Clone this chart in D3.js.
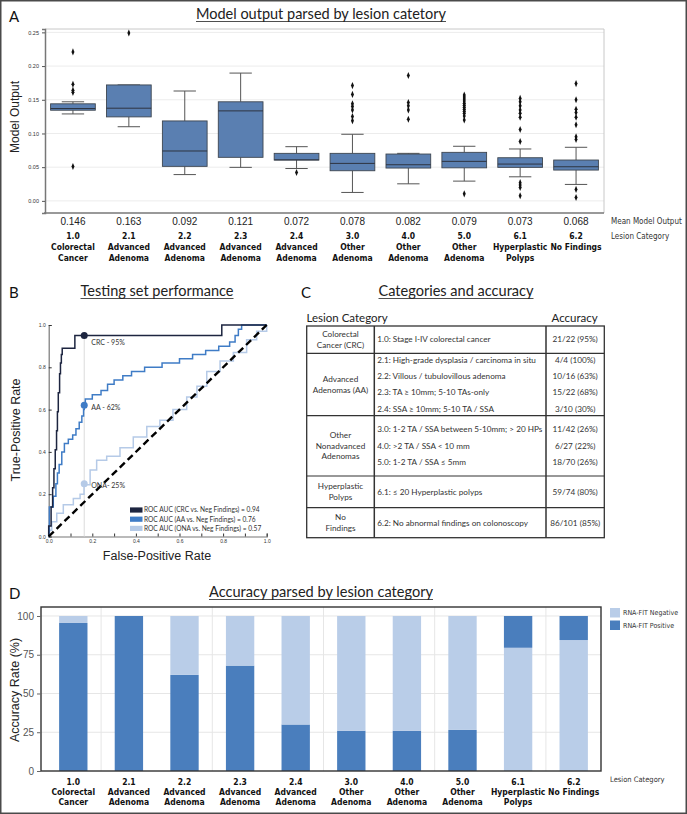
<!DOCTYPE html>
<html><head><meta charset="utf-8">
<script src="https://cdn.jsdelivr.net/npm/d3@7"></script>
<style>
body{margin:0;background:#fff;}
svg text{font-family:"Liberation Sans",Arial,sans-serif;}
.cond{font-family:"Liberation Sans Narrow","DejaVu Sans Condensed","Roboto Condensed",sans-serif;font-stretch:condensed;}
.my{font-family:Lato,"Noto Sans",sans-serif;}
</style></head><body>
<svg id="fig" width="687" height="814"></svg>
<script>
// ---------------- DATA ----------------
const lesionCodes = ["1.0","2.1","2.2","2.3","2.4","3.0","4.0","5.0","6.1","6.2"];
const lesionNames = [["Colorectal","Cancer"],["Advanced","Adenoma"],["Advanced","Adenoma"],["Advanced","Adenoma"],["Advanced","Adenoma"],["Other","Adenoma"],["Other","Adenoma"],["Other","Adenoma"],["Hyperplastic","Polyps"],["No Findings"]];
const meanOutput = [0.146,0.163,0.092,0.121,0.072,0.078,0.082,0.079,0.073,0.068];
const boxQ1      = [0.1345,0.1246,0.0512,0.0646,0.0606,0.0447,0.0487,0.049,0.0497,0.0457];
const boxMedian  = [0.137,0.1375,0.074,0.1335,0.0608,0.0556,0.0536,0.0586,0.0546,0.0506];
const boxQ3      = [0.144,0.172,0.1186,0.147,0.0705,0.0705,0.0695,0.072,0.064,0.0606];
const whiskerLow = [0.129,0.110,0.039,0.0497,0.048,0.0125,0.0253,0.0293,0.0357,0.0244];
const whiskerHigh= [0.147,0.172,0.163,0.1896,0.0804,0.0988,0.0705,0.081,0.077,0.0795];
const outliers = [
  [0.221,0.173,0.164,0.161,0.051],
  [0.249],
  [],
  [],
  [0.042],
  [0.171,0.158,0.144,0.140,0.135,0.125,0.119],
  [0.186,0.146,0.141,0.135,0.121],
  [0.157,0.154,0.151,0.148,0.145,0.142,0.139,0.136,0.133,0.130,0.126,0.120,0.0104],
  [0.152,0.147,0.141,0.135,0.130,0.124,0.106,0.088,0.027,0.0234,0.020,0.0075],
  [0.174,0.150,0.136,0.131,0.124,0.113,0.095,0.091,0.017,0.005]
];
const modelTicks = [0,0.05,0.10,0.15,0.20,0.25];

const rocCRC = [[0,0],[0,0.05],[0.011,0.14],[0.018,0.23],[0.024,0.32],[0.03,0.41],[0.036,0.5],[0.04,0.59],[0.044,0.68],[0.05,0.77],[0.054,0.82],[0.058,0.86],[0.062,0.89],[0.12,0.95],[0.794,1.0],[1,1]];
const rocAA = [[0,0],[0.003,0.14],[0.021,0.19],[0.033,0.25],[0.04,0.30],[0.048,0.34],[0.06,0.40],[0.072,0.44],[0.09,0.46],[0.11,0.48],[0.125,0.51],[0.14,0.54],[0.152,0.57],[0.16,0.60],[0.163,0.62],[0.168,0.65],[0.2,0.67],[0.24,0.69],[0.27,0.72],[0.3,0.74],[0.34,0.76],[0.38,0.78],[0.44,0.80],[0.52,0.82],[0.6,0.84],[0.66,0.86],[0.72,0.88],[0.78,0.90],[0.83,0.92],[0.855,0.95],[0.87,0.98],[0.885,1.0],[1,1]];
const rocONA = [[0,0],[0,0.03],[0.014,0.07],[0.037,0.11],[0.067,0.15],[0.113,0.18],[0.144,0.2],[0.162,0.245],[0.19,0.315],[0.22,0.36],[0.266,0.38],[0.327,0.42],[0.388,0.47],[0.45,0.52],[0.51,0.55],[0.57,0.60],[0.633,0.66],[0.68,0.71],[0.725,0.78],[0.786,0.83],[0.847,0.87],[0.908,0.93],[0.954,0.97],[1,1]];
const rocNames = ["CRC","AA","ONA"];
const rocAUC = [0.94,0.76,0.57];
const rocColors = ["#1d2540","#3f7cc6","#b5cae7"];
const operatingFPR = 0.163;
const operatingTPR = [0.95,0.62,0.25];
const operatingLabels = ["CRC - 95%","AA - 62%","ONA- 25%"];
const rocTicks = [0,0.1,0.2,0.3,0.4,0.5,0.6,0.7,0.8,0.9,1.0];

const groupLabels = [["Colorectal","Cancer (CRC)"],["Advanced","Adenomas (AA)"],["Other","Nonadvanced","Adenomas"],["Hyperplastic","Polyps"],["No","Findings"]];
const groupCategories = [
  ["1.0: Stage I-IV colorectal cancer"],
  ["2.1: High-grade dysplasia / carcinoma in situ","2.2: Villous / tubulovillous adenoma","2.3: TA \u2265 10mm; 5-10 TAs-only","2.4: SSA \u2265 10mm; 5-10 TA / SSA"],
  ["3.0: 1-2 TA / SSA between 5-10mm; > 20 HPs","4.0: >2 TA / SSA < 10 mm","5.0: 1-2 TA / SSA \u2264 5mm"],
  ["6.1: \u2264 20 Hyperplastic polyps"],
  ["6.2: No abnormal findings on colonoscopy"]
];
const groupAccuracy = [
  ["21/22 (95%)"],
  ["4/4 (100%)","10/16 (63%)","15/22 (68%)","3/10 (30%)"],
  ["11/42 (26%)","6/27 (22%)","18/70 (26%)"],
  ["59/74 (80%)"],
  ["86/101 (85%)"]
];

const rnaPositive = [95.5,100,62,68,30,26,26,26.5,20.5,15.5];
const rnaNegative = [4.5,0,38,32,70,74,74,73.5,79.5,84.5];
const correctCall = ["Positive","Positive","Positive","Positive","Positive","Positive","Positive","Positive","Negative","Negative"];
const accuracyTicks = [0,25,50,75,100];

// ---------------- DRAW ----------------
const svg = d3.select("#fig");
svg.append("rect").attr("x",0.75).attr("y",0.75).attr("width",685.5).attr("height",812.5).attr("fill","#fff").attr("stroke","#4a4a4a").attr("stroke-width",1.5);

function title(x,y,txt,len){
  svg.append("text").attr("class","my").attr("x",x).attr("y",y).attr("text-anchor","middle")
    .attr("font-size",15).attr("fill","#222").attr("textLength",len).attr("lengthAdjust","spacingAndGlyphs").text(txt);
  svg.append("line").attr("x1",x-len/2).attr("x2",x+len/2).attr("y1",y+2.5).attr("y2",y+2.5).attr("stroke","#222").attr("stroke-width",0.8);
}
function panelLabel(x,y,t){svg.append("text").attr("class","my").attr("x",x).attr("y",y).attr("font-size",15).attr("fill","#111").text(t);}

// ===== Panel A =====
panelLabel(9,22,"A");
title(321,19,"Model output parsed by lesion catetory",250);
const ax = d3.scaleBand().domain(lesionCodes).range([45,604]).paddingInner(0.2).paddingOuter(0.1);
const ay = d3.scaleLinear().domain([-0.018,0.255]).range([213,29]);
const gA = svg.append("g");
gA.selectAll("line.grid").data(modelTicks).join("line").attr("x1",45).attr("x2",604)
  .attr("y1",d=>ay(d)).attr("y2",d=>ay(d)).attr("stroke","#ececec").attr("stroke-width",1);
gA.append("path").attr("d",`M45,29H604V213`).attr("fill","none").attr("stroke","#c8c8c8").attr("stroke-width",1);
gA.append("g").attr("transform","translate(45,0)").call(d3.axisLeft(ay).tickValues(modelTicks).tickFormat(d3.format(".2f")).tickSize(3))
  .call(g=>{g.select(".domain").attr("stroke","#777").attr("stroke-width",1.5);g.selectAll("line").attr("stroke","#555");g.selectAll("text").attr("font-size",5.5).attr("fill","#333");});
gA.append("line").attr("x1",44).attr("x2",604).attr("y1",213).attr("y2",213).attr("stroke","#777").attr("stroke-width",1.5);

lesionCodes.forEach((c,i)=>{
  const cx = ax(c)+ax.bandwidth()/2, w = ax.bandwidth(), x0 = ax(c);
  const g = gA.append("g");
  g.append("line").attr("x1",cx).attr("x2",cx).attr("y1",ay(boxQ3[i])).attr("y2",ay(whiskerHigh[i])).attr("stroke","#555");
  g.append("line").attr("x1",cx).attr("x2",cx).attr("y1",ay(boxQ1[i])).attr("y2",ay(whiskerLow[i])).attr("stroke","#555");
  g.append("line").attr("x1",cx-w/4).attr("x2",cx+w/4).attr("y1",ay(whiskerHigh[i])).attr("y2",ay(whiskerHigh[i])).attr("stroke","#555");
  g.append("line").attr("x1",cx-w/4).attr("x2",cx+w/4).attr("y1",ay(whiskerLow[i])).attr("y2",ay(whiskerLow[i])).attr("stroke","#555");
  g.append("rect").attr("x",x0).attr("width",w).attr("y",ay(boxQ3[i])).attr("height",ay(boxQ1[i])-ay(boxQ3[i]))
    .attr("fill","#5a7fb1").attr("stroke","#3e4650").attr("stroke-width",0.9);
  g.append("line").attr("x1",x0).attr("x2",x0+w).attr("y1",ay(boxMedian[i])).attr("y2",ay(boxMedian[i])).attr("stroke","#2e3440").attr("stroke-width",1);
  g.selectAll("path.o").data(outliers[i]).join("path").attr("d",d3.symbol(d3.symbolDiamond,12))
    .attr("transform",d=>`translate(${cx},${ay(d)}) scale(0.8,1.1)`).attr("fill","#111");
  svg.append("text").attr("x",cx).attr("y",225).attr("text-anchor","middle").attr("font-size",10).attr("fill","#222").text(meanOutput[i].toFixed(3));
  svg.append("text").attr("class","cond").attr("x",cx).attr("y",239).attr("text-anchor","middle").attr("font-size",8.5).attr("font-weight","bold").attr("fill","#111").text(c);
  lesionNames[i].forEach((n,k)=>svg.append("text").attr("class","cond").attr("x",cx).attr("y",250+k*10.5).attr("text-anchor","middle").attr("font-size",8.5).attr("font-weight","bold").attr("fill","#111").text(n));
});
svg.append("text").attr("class","cond").attr("x",611).attr("y",224).attr("font-size",8).attr("fill","#333").text("Mean Model Output");
svg.append("text").attr("class","cond").attr("x",611).attr("y",239).attr("font-size",8).attr("fill","#333").text("Lesion Category");
svg.append("text").attr("transform","translate(19,117) rotate(-90)").attr("text-anchor","middle").attr("font-size",12).attr("fill","#222").text("Model Output");

// ===== Panel B =====
panelLabel(9,298,"B");
title(157,296,"Testing set performance",153);
const bx = d3.scaleLinear().domain([0,1]).range([48.7,266.7]);
const by = d3.scaleLinear().domain([0,1]).range([536.5,325]);
const gB = svg.append("g");
gB.append("g").attr("transform","translate(0,536.5)").call(d3.axisBottom(bx).tickValues(rocTicks).tickSize(-3).tickPadding(3).tickFormat(d=>Math.round(d*10)%2===0?d.toFixed(1):""))
  .call(g=>{g.select(".domain").attr("stroke","#777").attr("stroke-width",1.2);g.selectAll("line").attr("stroke","#333");g.selectAll("text").attr("font-size",5).attr("fill","#333");});
gB.append("g").attr("transform","translate(48.7,0)").call(d3.axisLeft(by).tickValues([0,0.2,0.4,0.6,0.8,1.0]).tickSize(-3).tickPadding(3).tickFormat(d3.format(".1f")))
  .call(g=>{g.select(".domain").attr("stroke","#777").attr("stroke-width",1.2);g.selectAll("line").attr("stroke","#333");g.selectAll("text").attr("font-size",5).attr("fill","#333");});
gB.append("line").attr("x1",bx(operatingFPR)).attr("x2",bx(operatingFPR)).attr("y1",by(operatingTPR[0])).attr("y2",by(0)).attr("stroke","#dcdcdc").attr("stroke-width",1);
const rocLine = d3.line().x(d=>bx(d[0])).y(d=>by(d[1])).curve(d3.curveStepAfter);
[rocONA,rocAA,rocCRC].forEach((r,k)=>{
  gB.append("path").attr("d",rocLine(r)).attr("fill","none").attr("stroke",rocColors[2-k]).attr("stroke-width",1.5);
});
gB.append("line").attr("x1",bx(0)).attr("y1",by(0)).attr("x2",bx(1)).attr("y2",by(1)).attr("stroke","#000").attr("stroke-width",2.4).attr("stroke-dasharray","7,4");
const labelDy = [9,4.5,4.5];
operatingTPR.forEach((t,k)=>{
  gB.append("circle").attr("cx",bx(operatingFPR)).attr("cy",by(t)).attr("r",3.5).attr("fill",rocColors[k]);
  gB.append("text").attr("class","my").attr("x",bx(operatingFPR)+7).attr("y",by(t)+labelDy[k]).attr("font-size",7).attr("fill","#333").text(operatingLabels[k]);
});
rocNames.forEach((n,k)=>{
  const y = 510 + k*9.2;
  gB.append("rect").attr("x",130).attr("y",y-2.6).attr("width",12.5).attr("height",5.2).attr("fill",rocColors[k]);
  gB.append("text").attr("class","my").attr("x",144).attr("y",y+2.3).attr("font-size",6.6).attr("fill","#333")
    .text(`ROC AUC (${n} vs. Neg Findings) = ${rocAUC[k].toFixed(2)}`);
});
svg.append("text").attr("x",157).attr("y",560).attr("text-anchor","middle").attr("font-size",12.5).attr("fill","#222").text("False-Positive Rate");
svg.append("text").attr("transform","translate(20,430) rotate(-90)").attr("text-anchor","middle").attr("font-size",12.5).attr("fill","#222").text("True-Positive Rate");

// ===== Panel C =====
panelLabel(301,298,"C");
title(456,296,"Categories and accuracy",155);
svg.append("text").attr("class","my").attr("x",306.5).attr("y",322).attr("font-size",11.5).attr("fill","#222").text("Lesion Category");
svg.append("text").attr("class","my").attr("x",551.5).attr("y",322).attr("font-size",11.5).attr("fill","#222").text("Accuracy");
const tX = [306.7,374.3,546,604.3];
const rowH = [27.3,62.4,60.3,31.7,30];
let ty = 326;
const gC = svg.append("g");
groupLabels.forEach((gl,gi)=>{
  const h = rowH[gi], cy = ty + h/2;
  gl.forEach((t,k)=>gC.append("text").attr("class","my").attr("x",(tX[0]+tX[1])/2).attr("y",cy+(k-(gl.length-1)/2)*10.6+2.8)
    .attr("text-anchor","middle").attr("font-size",8.2).attr("fill","#333").text(t));
  const n = groupCategories[gi].length;
  groupCategories[gi].forEach((t,k)=>{
    const yy = cy + (k-(n-1)/2)*16.2 + 2.8;
    gC.append("text").attr("class","my").attr("x",tX[1]+3).attr("y",yy).attr("font-size",8.2).attr("fill","#333").text(t);
    gC.append("text").attr("class","my").attr("x",(tX[2]+tX[3])/2).attr("y",yy).attr("text-anchor","middle").attr("font-size",8.2).attr("fill","#333").text(groupAccuracy[gi][k]);
  });
  ty += h;
  if(gi<groupLabels.length-1) gC.append("line").attr("x1",tX[0]).attr("x2",tX[3]).attr("y1",ty).attr("y2",ty).attr("stroke","#333").attr("stroke-width",1.2);
});
gC.append("rect").attr("x",tX[0]).attr("y",326).attr("width",tX[3]-tX[0]).attr("height",ty-326).attr("fill","none").attr("stroke","#333").attr("stroke-width",1.3);
[tX[1],tX[2]].forEach(x=>gC.append("line").attr("x1",x).attr("x2",x).attr("y1",326).attr("y2",ty).attr("stroke","#333").attr("stroke-width",1.5));

// ===== Panel D =====
panelLabel(9,599,"D");
title(321,597,"Accuracy parsed by lesion category",224);
const dx = d3.scaleBand().domain(lesionCodes).range([45.5,601.5]).paddingInner(0.49).paddingOuter(0.245);
const dy = d3.scaleLinear().domain([0,105.8]).range([771,607]);
const gD = svg.append("g");
gD.selectAll("line.hg").data(accuracyTicks.slice(1)).join("line").attr("x1",41).attr("x2",601).attr("y1",d=>dy(d)).attr("y2",d=>dy(d)).attr("stroke","#e6e6e6");
[1,3,5,7,9].forEach(i=>{
  const x = dx(lesionCodes[i]) - dx.step()*dx.paddingInner()/2;
  gD.append("line").attr("x1",x).attr("x2",x).attr("y1",607).attr("y2",771).attr("stroke","#e6e6e6");
});
const colPos="#4a7ebd", colNeg="#b9cde8";
lesionCodes.forEach((c,i)=>{
  const first = correctCall[i]==="Positive" ? [rnaPositive[i],colPos] : [rnaNegative[i],colNeg];
  const second = correctCall[i]==="Positive" ? [rnaNegative[i],colNeg] : [rnaPositive[i],colPos];
  gD.append("rect").attr("x",dx(c)).attr("width",dx.bandwidth()).attr("y",dy(first[0])).attr("height",dy(0)-dy(first[0])).attr("fill",first[1]);
  if(second[0]>0) gD.append("rect").attr("x",dx(c)).attr("width",dx.bandwidth()).attr("y",dy(first[0]+second[0])).attr("height",dy(first[0])-dy(first[0]+second[0])).attr("fill",second[1]);
  const cx = dx(c)+dx.bandwidth()/2;
  svg.append("text").attr("class","cond").attr("x",cx).attr("y",785).attr("text-anchor","middle").attr("font-size",8.5).attr("font-weight","bold").attr("fill","#111").text(c);
  lesionNames[i].forEach((n,k)=>svg.append("text").attr("class","cond").attr("x",cx).attr("y",795+k*10).attr("text-anchor","middle").attr("font-size",8.5).attr("font-weight","bold").attr("fill","#111").text(n));
});
gD.append("rect").attr("x",41).attr("y",607).attr("width",560).attr("height",164).attr("fill","none").attr("stroke","#333").attr("stroke-width",1.4);
gD.append("g").attr("transform","translate(41,0)").call(d3.axisLeft(dy).tickValues(accuracyTicks).tickSize(4).tickPadding(3))
  .call(g=>{g.select(".domain").remove();g.selectAll("line").attr("stroke","#666");g.selectAll("text").attr("font-size",10).attr("fill","#555");});
svg.append("text").attr("transform","translate(19,690) rotate(-90)").attr("text-anchor","middle").attr("font-size",12.5).attr("fill","#222").text("Accuracy Rate (%)");
[["RNA-FIT Negative",colNeg],["RNA-FIT Positive",colPos]].forEach((d,k)=>{
  svg.append("rect").attr("x",610).attr("y",608+k*12.5).attr("width",10).attr("height",9.5).attr("fill",d[1]);
  svg.append("text").attr("class","cond").attr("x",623).attr("y",615+k*12.5).attr("font-size",7).attr("fill","#333").text(d[0]);
});
svg.append("text").attr("class","cond").attr("x",610).attr("y",782).attr("font-size",7.5).attr("fill","#333").text("Lesion Category");
</script>
</body></html>
